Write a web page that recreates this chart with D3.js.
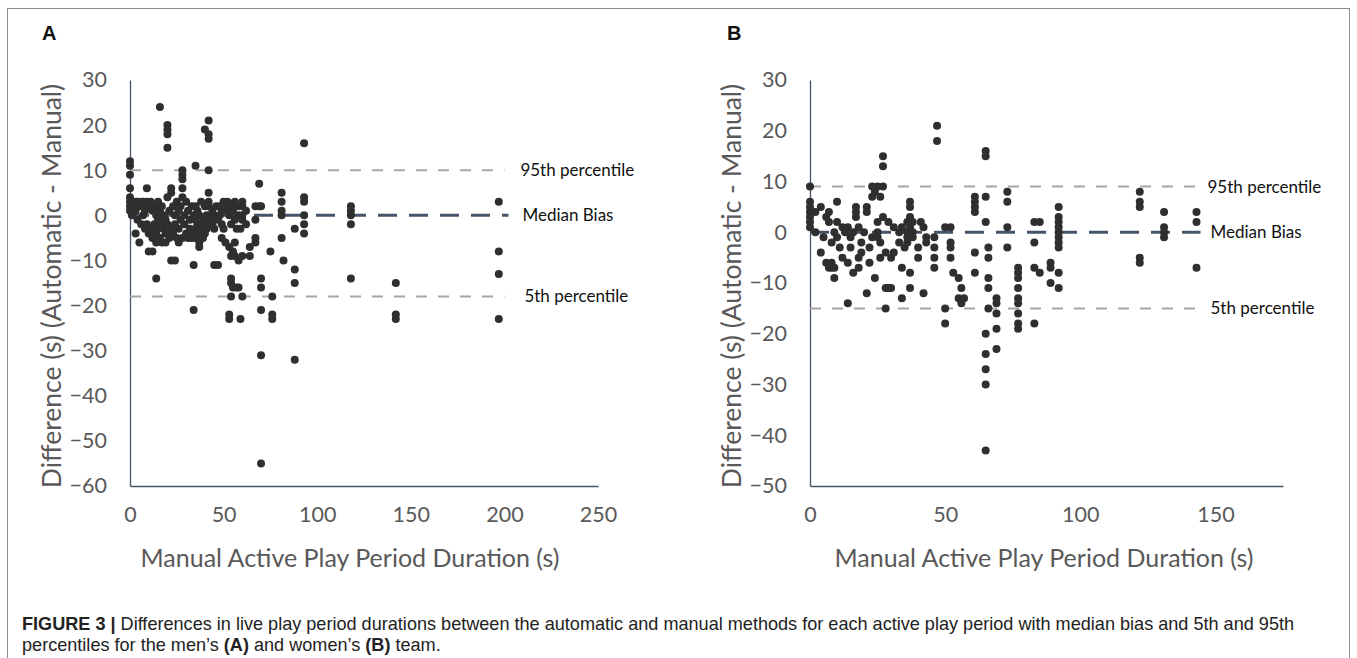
<!DOCTYPE html>
<html><head><meta charset="utf-8">
<script src="https://cdn.jsdelivr.net/npm/d3@7"></script>
<style>
html,body{margin:0;padding:0;background:#fff;}
svg{display:block;}
</style></head>
<body>
<svg id="chart" width="1357" height="658"></svg>
<script>
// ---------- DATA ----------
const panelLabels = ["A", "B"];
const xTicksA = [0, 50, 100, 150, 200, 250];
const yTicksA = [30, 20, 10, 0, -10, -20, -30, -40, -50, -60];
const xTicksB = [0, 50, 100, 150];
const yTicksB = [30, 20, 10, 0, -10, -20, -30, -40, -50];
const xTitle = "Manual Active Play Period Duration (s)";
const yTitle = "Difference (s) (Automatic - Manual)";
const refLabels = ["95th percentile", "Median Bias", "5th percentile"];
// reference lines [95th, median, 5th]
const refA = [10, 0, -18];
const refB = [9, 0, -15];

// Men's team (A): manual duration (s), difference (s)
const menX = [0,0,0,0,0,0,0,0, 1,1, 2, 3,3,3, 4,4, 5,5, 6,6, 7,7, 8,8,8, 9,9,9, 10,10,10, 11,11, 12,12,12, 13,13,
  14,14,14,14, 15,15,15, 16,16,16, 17,17,17, 18,18, 19,19,19, 20,20,20,20,20,20, 21,21, 22,22,22,22, 23,23, 24,24,24,
  25,25, 26,26,26, 27,27, 28,28,28,28,28,28, 29,29, 30,30, 31,31, 32,32, 33,33, 34,34,34,34, 35,35,35,35,35,
  36,36,36, 37,37,37, 38,38, 39,39, 40,40,40,40, 41,41, 42,42,42,42,42,42,42, 43, 44,44, 45,45,45, 46, 47,47,
  48,48, 49,49,49, 50,50, 51,51, 52,52,52, 53,53,53,53, 54,54,54,54,54,54, 55,55,55, 56,56,56,56, 57,57,
  58,58,58,58, 59,59, 60,60,60,60,60,60, 62,62, 64,64, 67,67,67,67, 69,69, 70,70,70,70,70,70, 75, 76,76,76,
  81,81,81,81,81, 82, 88,88,88,88, 93,93,93,93,93,93, 118,118,118,118,118, 142,142,142, 197,197,197,197];
const menY = [12,11,9,6,4,3,2,1, 3,0, 2, 3,1,-4, 3,-1, 2,-6, 3,-2, 3,0, 2,1,-3, 6,3,-2, 2,-4,-8, 3,-3, 1,-5,-8, 2,-2,
  -14,-4,0,-6, 3,-1,-3, 24,1,-5, 2,-2,-6, 0,-3, -1,-4,-6, 20,19,18,15,4,-2, 1,-5, 6,5,-3,-10, 2,-4, -10,0,-2,
  3,-5, 1,-3,-6, 2,-1, 10,9,8,6,4,-5, 0,-2, 3,-4, 1,-5, -1,-3, 2,-5, 0,-4,-11,-21, 11,2,-1,-3,-5,
  1,-2,-4, 0,-6,-7, 3,-3, -1,-5, 19,2,-2,-4, 0,-3, 21,18,17,10,5,3,2, -1, 1,-2, 0,-3,-11, 2, -1,-11,
  2,0, 1,-2,-5, 3,-3, 1,-6, 3,2,1, 0,-7,-22,-23, 2,-2,-9,-14,-18,-15, 1,-8,-16, 3,-1,-6,-9, -3,-16,
  2,0,-10,-16, -3,-23, 3,2,0,-1,-18,-9, 1,-2, -7,-9, 2,-1,-5,-6, 2,7, 2,-14,-16,-21,-31,-55, -8, -18,-22,-23,
  5,3,1,0,-5, -10, -3,-12,-15,-32, 16,4,3,0,-2,-4, 2,1,0,-2,-14, -15,-22,-23, 3,-8,-13,-23];

// Women's team (B)
const womenX = [0,0,0,0,0,0,0, 2,2, 4,4, 5, 6,6, 7,7,7, 8,8,8, 9,9,9, 10,10,10, 11, 12,12, 13, 14,14,14, 15,15, 16,16,
  17,17,17, 18,18,18, 19,19, 20, 21,21,21, 22,22, 23,23,23, 24,24, 25,25,25,25, 26,26,26, 27,27,27,27, 28,28,28,
  29,29, 30,30, 31,31, 33,33, 34,34,34, 35, 36,36,36,36, 37,37,37,37,37,37, 38,38,38, 40,40, 41, 42,42, 43,43,
  46,46,46,46, 47,47, 50,50,50, 52,52,52,52, 53, 55,55, 56,56, 57, 61,61,61,61,61,61, 65,65,65,65,65,65,65,65,65,
  66,66,66,66,66, 69,69,69,69,69, 73,73,73,73, 77,77,77,77,77,77,77,77,77, 83,83,83,83, 85,85, 89,89,89,
  92,92,92,92,92,92,92,92,92,92, 122,122,122,122,122, 131,131,131,131, 143,143,143];
const womenY = [9,6,5,4,3,2,1, 0,4, 5,-4, -1, 3,-6, 4,2,-7, -2,-6,-7, 0,-9,-7, 6,2,-1, -3, 1,-5, 0, 1,-14,-6, -1,-3, 0,-8,
  5,4,3, 1,-5,-7, -2,-4, 0, 5,4,-12, -3,-6, 9,7,-1, 8,-9, 9,2,0,-1, 7,-2,-5, 15,13,9,3, -11,-15,-4,
  2,-11, -5,-11, 1,-4, 0,-2, 1,-7,-13, -3, 2,0,-1,-2, 6,5,3,1,-8,-11, -1,0,2, -3,-5, 2, 1,-12, -1,-2,
  -1,-3,-5,-7, 21,18, 1,-15,-18, 1,-2,-3,-5, -8, -9,-13, -11,-14, -13, 7,6,5,4,-4,-8, 16,15,7,2,-20,-24,-27,-30,-43,
  -3,-5,-9,-11,-15, -13,-14,-16,-19,-23, 8,6,1,-3, -7,-8,-9,-11,-13,-14,-16,-18,-19, 2,-2,-7,-18, 2,-8, -6,-7,-10,
  5,3,2,1,0,-1,-2,-3,-8,-11, 8,6,5,-5,-6, 4,1,0,-1, 4,2,-7];

const captionBold1 = "FIGURE 3 |";
const captionText1 = " Differences in live play period durations between the automatic and manual methods for each active play period with median bias and 5th and 95th";
const captionText2a = "percentiles for the men\u2019s ";
const captionText2b = " and women\u2019s ";
const captionText2c = " team.";

// ---------- DRAW ----------
const svg = d3.select("#chart");
const FONT = "Lato, 'Open Sans', sans-serif";
const axisColor = "#44546A";
const tickColor = "#595959";

// outer frame
svg.append("rect").attr("x", 7.5).attr("y", 8.5).attr("width", 1342).attr("height", 660)
  .attr("fill", "none").attr("stroke", "#8c8c8c").attr("stroke-width", 1);

function panel(cfg) {
  const g = svg.append("g");
  const x = d3.scaleLinear().domain(cfg.xDomain).range(cfg.xRange);
  const y = d3.scaleLinear().domain(cfg.yDomain).range(cfg.yRange);

  // panel letter
  g.append("text").attr("x", cfg.letterX).attr("y", 40).text(cfg.letter)
    .attr("font-family", "'Liberation Sans', Arial, sans-serif").attr("font-weight", "bold")
    .attr("font-size", 20).attr("fill", "#111");

  // y axis
  const yAx = g.append("g").attr("transform", `translate(${cfg.xRange[0]},0)`)
    .call(d3.axisLeft(y).tickValues(cfg.yTicks).tickSize(0).tickPadding(23).tickFormat(d3.format("d")));
  yAx.select(".domain").attr("stroke", axisColor).attr("stroke-width", 1.3);
  yAx.selectAll("text").attr("font-family", FONT).attr("font-size", 21.5).attr("fill", tickColor);

  // x axis
  const xAx = g.append("g").attr("transform", `translate(0,${cfg.yRange[0]})`)
    .call(d3.axisBottom(x).tickValues(cfg.xTicks).tickSize(0).tickPadding(21).tickFormat(d3.format("d")));
  xAx.select(".domain").attr("stroke", axisColor).attr("stroke-width", 1.3);
  xAx.selectAll("text").attr("font-family", FONT).attr("font-size", 21.5).attr("fill", tickColor);

  // titles
  g.append("text").attr("x", cfg.xTitleX).attr("y", 567).attr("text-anchor", "middle")
    .attr("font-family", FONT).attr("font-size", 25).attr("fill", tickColor).text(xTitle);
  g.append("text").attr("transform", `translate(${cfg.yTitleX},286) rotate(-90)`).attr("text-anchor", "middle")
    .attr("font-family", FONT).attr("font-size", 26.5).attr("fill", tickColor).text(yTitle);

  // reference lines
  const xEnd = x(cfg.refEnd);
  const x0 = x(0);
  [0, 2].forEach(i => {
    g.append("line").attr("x1", x0).attr("x2", xEnd).attr("y1", y(cfg.ref[i])).attr("y2", y(cfg.ref[i]))
      .attr("stroke", "#A6A6A6").attr("stroke-width", 2).attr("stroke-dasharray", "11,11");
  });
  g.append("line").attr("x1", x0).attr("x2", xEnd + 4).attr("y1", y(cfg.ref[1])).attr("y2", y(cfg.ref[1]))
    .attr("stroke", "#44546A").attr("stroke-width", 3).attr("stroke-dasharray", "19,12");

  // points
  g.append("g").selectAll("circle").data(cfg.xs.map((v, i) => [v, cfg.ys[i]])).join("circle")
    .attr("cx", d => x(d[0])).attr("cy", d => y(d[1])).attr("r", 4).attr("fill", "#2f2f2f");

  // ref labels
  refLabels.forEach((t, i) => {
    g.append("text").attr("x", xEnd + cfg.labelOff[i]).attr("y", y(cfg.ref[i])).attr("dy", "0.35em")
      .attr("font-family", FONT).attr("font-size", 17).attr("fill", "#111").text(t);
  });
}

panel({letter: panelLabels[0], letterX: 42, xDomain: [0, 250], xRange: [130, 598], yDomain: [-60, 30], yRange: [486, 80],
  xTicks: xTicksA, yTicks: yTicksA, ref: refA, refEnd: 200, xs: menX, ys: menY, yTitleX: 61, xTitleX: 350, labelOff: [16, 18, 20]});
panel({letter: panelLabels[1], letterX: 727, xDomain: [0, 175], xRange: [810, 1283], yDomain: [-50, 30], yRange: [486, 80],
  xTicks: xTicksB, yTicks: yTicksB, ref: refB, refEnd: 143, xs: womenX, ys: womenY, yTitleX: 741, xTitleX: 1044, labelOff: [11, 14, 14]});

// caption
const cap = svg.append("g").attr("font-family", "'Liberation Sans', Arial, sans-serif").attr("font-size", 18.1).attr("fill", "#222");
const t1 = cap.append("text").attr("x", 22).attr("y", 630);
t1.append("tspan").attr("font-weight", "bold").text(captionBold1);
t1.append("tspan").text(captionText1);
const t2 = cap.append("text").attr("x", 22).attr("y", 651);
t2.append("tspan").text(captionText2a);
t2.append("tspan").attr("font-weight", "bold").text("(A)");
t2.append("tspan").text(captionText2b);
t2.append("tspan").attr("font-weight", "bold").text("(B)");
t2.append("tspan").text(captionText2c);
</script>
</body></html>
